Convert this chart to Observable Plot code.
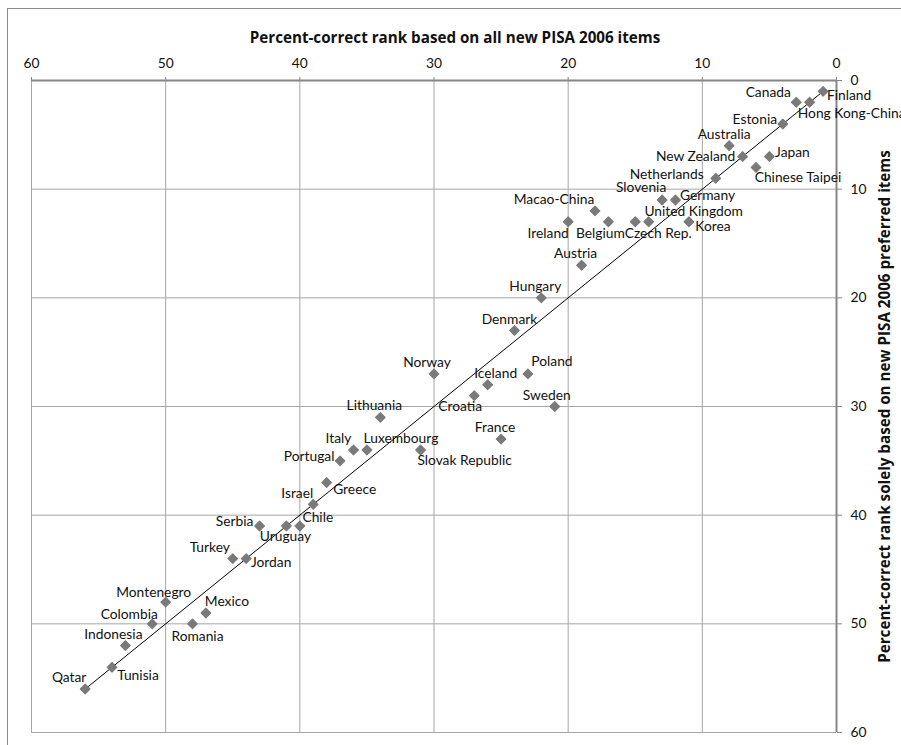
<!DOCTYPE html>
<html><head><meta charset="utf-8">
<script src="https://cdn.jsdelivr.net/npm/d3@7"></script>
<script src="https://cdn.jsdelivr.net/npm/@observablehq/plot@0.6"></script>
<style>
body{margin:0;background:#fff;}
#wrap{position:relative;width:901px;height:745px;overflow:hidden;}
#border{position:absolute;left:7px;top:8px;width:1000px;height:1000px;border-top:1.5px solid #8c8c8c;border-left:1.5px solid #8c8c8c;}
#chart{position:absolute;left:0;top:0;}
</style></head><body><div id="wrap"><div id="border"></div><div id="chart"></div></div>
<script>
const countries = ["Finland","Hong Kong-China","Canada","Estonia","Japan","Chinese Taipei","New Zealand","Australia","Netherlands","Korea","Germany","Slovenia","United Kingdom","Czech Rep.","Belgium","Macao-China","Austria","Ireland","Sweden","Hungary","Poland","Denmark","France","Iceland","Croatia","Norway","Slovak Republic","Lithuania","Luxembourg","Italy","Portugal","Greece","Israel","Chile","Uruguay","Serbia","Jordan","Turkey","Mexico","Romania","Montenegro","Colombia","Indonesia","Tunisia","Qatar"];
const allItemsRank = [1,2,3,4,5,6,7,8,9,11,12,13,14,15,17,18,19,20,21,22,23,24,25,26,27,30,31,34,35,36,37,38,39,40,41,43,44,45,47,48,50,51,53,54,56];
const preferredItemsRank = [1,2,2,4,7,8,7,6,9,13,11,11,13,13,13,12,17,13,30,20,27,23,33,28,29,27,34,31,34,34,35,37,39,41,41,41,44,44,49,50,48,50,52,54,56];
const xTicks = [0,10,20,30,40,50,60];
const yTicks = [0,10,20,30,40,50,60];
const xTitle = "Percent-correct rank based on all new PISA 2006 items";
const yTitle = "Percent-correct rank solely based on new PISA 2006 preferred items";
// label placement (pixel offsets from each marker)
const labelOffsets = {
  "Finland":[26,4],"Hong Kong-China":[42,11],"Canada":[-28,-10],"Estonia":[-28,-4],"Japan":[23,-4],
  "Chinese Taipei":[42,10],"New Zealand":[-47,0],"Australia":[-5,-11],"Netherlands":[-49,-4],
  "Korea":[24,5],"Germany":[32,-4],"Slovenia":[-21,-12],"United Kingdom":[45,-10],"Czech Rep.":[23,12],
  "Belgium":[-8,12],"Macao-China":[-41,-11],"Austria":[-6,-12],"Ireland":[-20,12],"Sweden":[-8,-11],
  "Hungary":[-6,-11],"Poland":[24,-12],"Denmark":[-5,-11],"France":[-6,-12],"Iceland":[8,-11],
  "Croatia":[-14,11],"Norway":[-7,-11],"Slovak Republic":[44,11],"Lithuania":[-6,-12],"Luxembourg":[34,-11],
  "Italy":[-15,-11],"Portugal":[-31,-4],"Greece":[28,7],"Israel":[-16,-11],"Chile":[18,-8],
  "Uruguay":[-1,11],"Serbia":[-25,-4],"Jordan":[25,4],"Turkey":[-23,-11],"Mexico":[21,-11],
  "Romania":[5,13],"Montenegro":[-12,-10],"Colombia":[-23,-9],"Indonesia":[-12,-11],"Tunisia":[26,8],"Qatar":[-16,-11]
};

// --- font selection: prefer a narrow font close to Calibri's proportions ---
const ctx = document.createElement("canvas").getContext("2d");
function tw(str, font) { ctx.font = font; return ctx.measureText(str).width; }
const NARROW = "'Liberation Sans Narrow'";
const narrowOK = Math.abs(tw("New Zealand", "16px " + NARROW + ", monospace") - tw("New Zealand", "16px " + NARROW + ", serif")) < 0.5;
const FONT = narrowOK ? NARROW + ", Lato, sans-serif" : "Lato, sans-serif";
const TITLE_FONT = narrowOK ? NARROW + ", 'Open Sans', sans-serif" : "'Open Sans', Lato, sans-serif";
const sample = "Slovak RepublicLuxembourgNew Zealand"; // about 248px wide in the reference
const labelSize = Math.round(248 / tw(sample, "100px " + FONT) * 100 * 10) / 10;
const titleSize = Math.round(410 / tw(xTitle, "bold 100px " + TITLE_FONT) * 100 * 10) / 10;

const data = countries.map((c, i) => ({country: c, all: allItemsRank[i], preferred: preferredItemsRank[i]}));
const ext = d3.extent(allItemsRank);
const diagonal = ext.map(v => ({all: v, preferred: v}));

const labelMarks = data.map(d => Plot.text([d], {
  x: "all", y: "preferred", text: "country",
  dx: labelOffsets[d.country][0], dy: labelOffsets[d.country][1],
  fontSize: labelSize, fill: "#111", lineAnchor: "middle"
}));

const chart = Plot.plot({
  width: 901, height: 745,
  marginLeft: 31, marginRight: 65, marginTop: 80, marginBottom: 13,
  style: {fontFamily: FONT, background: "transparent", color: "#111"},
  x: {domain: [60, 0]},
  y: {domain: [0, 60], reverse: true},
  marks: [
    Plot.gridX(xTicks, {stroke: "#a6a6a6", strokeOpacity: 1, strokeWidth: 1}),
    Plot.gridY(yTicks, {stroke: "#a6a6a6", strokeOpacity: 1, strokeWidth: 1}),
    Plot.ruleY([0], {stroke: "#868686", strokeWidth: 2}),
    Plot.ruleX([0], {stroke: "#868686", strokeWidth: 2}),
    Plot.axisX(xTicks, {anchor: "top", tickSize: 4, tickPadding: 9, fontSize: labelSize, stroke: "#868686", fill: "#111", label: null}),
    Plot.axisY(yTicks, {anchor: "right", tickSize: 5, tickPadding: 9, fontSize: labelSize, stroke: "#868686", fill: "#111", label: null}),
    Plot.text([xTitle], {frameAnchor: "top", textAnchor: "middle", lineAnchor: "bottom", dx: 21, dy: -38, fontSize: titleSize, fontWeight: "bold", fontFamily: TITLE_FONT, fill: "#111"}),
    Plot.text([yTitle], {frameAnchor: "right", textAnchor: "middle", rotate: -90, lineAnchor: "bottom", dx: 53, fontSize: titleSize, fontWeight: "bold", fontFamily: TITLE_FONT, fill: "#111"}),
    Plot.line(diagonal, {x: "all", y: "preferred", stroke: "black", strokeWidth: 1}),
    Plot.dot(data, {x: "all", y: "preferred", symbol: "diamond2", r: 4.3, fill: "#7a7a7a", stroke: "#7a7a7a", strokeWidth: 1.2, strokeLinejoin: "round"}),
    ...labelMarks
  ]
});
document.getElementById("chart").appendChild(chart);
</script>
</body></html>
